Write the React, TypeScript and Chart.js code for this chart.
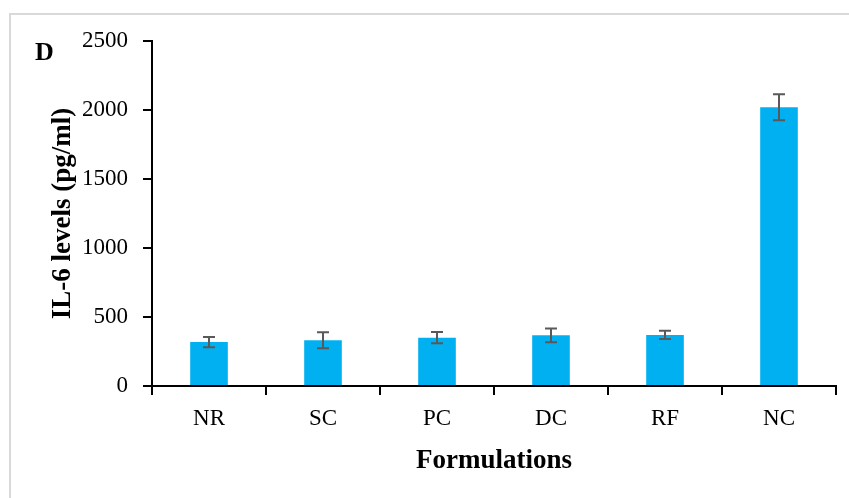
import React, { useEffect, useRef } from "react";
import { Chart, registerables } from "chart.js";

Chart.register(...registerables);

const categories = ["NR", "SC", "PC", "DC", "RF", "NC"];
const values = [318, 331, 350, 367, 370, 2020];
const errors = [37, 58, 41, 50, 30, 95];
const yTicks = [0, 500, 1000, 1500, 2000, 2500];
const panelLabel = "D";
const yTitle = "IL-6 levels (pg/ml)";
const xTitle = "Formulations";

const FONT = "'Liberation Serif', 'Times New Roman', serif";

export default function App() {
  const ref = useRef<HTMLCanvasElement | null>(null);

  useEffect(() => {
    const canvas = ref.current;
    if (!canvas) return;

    const framePlugin = {
      id: "frame",
      beforeDraw(chart: any) {
        const ctx = chart.ctx;
        ctx.save();
        ctx.strokeStyle = "#d9d9d9";
        ctx.lineWidth = 2;
        ctx.strokeRect(10, 14, 900, 600);
        ctx.restore();
      },
    };

    const errorPlugin = {
      id: "errorbars",
      afterDatasetsDraw(chart: any) {
        const ctx = chart.ctx;
        const meta = chart.getDatasetMeta(0);
        const ys = chart.scales.y;
        ctx.save();
        ctx.strokeStyle = "#595959";
        ctx.lineWidth = 2;
        meta.data.forEach((bar: any, i: number) => {
          const x = Math.round(bar.x);
          const top = ys.getPixelForValue(values[i] + errors[i]);
          const bot = ys.getPixelForValue(values[i] - errors[i]);
          ctx.beginPath();
          ctx.moveTo(x, top);
          ctx.lineTo(x, bot);
          ctx.moveTo(x - 6, top);
          ctx.lineTo(x + 6, top);
          ctx.moveTo(x - 6, bot);
          ctx.lineTo(x + 6, bot);
          ctx.stroke();
        });
        ctx.restore();
      },
    };

    const textPlugin = {
      id: "texts",
      afterDraw(chart: any) {
        const ctx = chart.ctx;
        const area = chart.chartArea;
        ctx.save();
        ctx.fillStyle = "#000";
        ctx.font = `bold 26px ${FONT}`;
        ctx.textAlign = "left";
        ctx.textBaseline = "alphabetic";
        ctx.fillText(panelLabel, 35, 60);

        ctx.font = `bold 27px ${FONT}`;
        ctx.textAlign = "center";
        ctx.fillText(xTitle, (area.left + area.right) / 2, 468);

        ctx.translate(70, (area.top + area.bottom) / 2);
        ctx.rotate(-Math.PI / 2);
        ctx.fillText(yTitle, 0, 0);
        ctx.restore();
      },
    };

    const chart = new Chart(canvas, {
      type: "bar",
      data: {
        labels: categories,
        datasets: [
          {
            data: values,
            backgroundColor: "#00B0F0",
            borderWidth: 0,
            categoryPercentage: 1,
            barPercentage: 0.33,
          },
        ],
      },
      options: {
        responsive: false,
        animation: false,
        devicePixelRatio: 1,
        layout: { padding: { top: 41, right: 13, bottom: 0, left: 0 } },
        plugins: {
          legend: { display: false },
          tooltip: { enabled: false },
        },
        scales: {
          x: {
            grid: {
              display: true,
              drawOnChartArea: false,
              drawTicks: true,
              tickLength: 9,
              color: "#000",
              lineWidth: 2,
              offset: true,
            },
            border: { display: true, color: "#000", width: 2 },
            ticks: {
              color: "#000",
              font: { family: FONT, size: 23 },
              padding: 10,
              maxRotation: 0,
            },
            afterFit(scale: any) {
              scale.height = 112;
            },
          },
          y: {
            min: 0,
            max: 2500,
            afterBuildTicks(scale: any) {
              scale.ticks = yTicks.map((v) => ({ value: v }));
            },
            grid: {
              display: true,
              drawOnChartArea: false,
              drawTicks: true,
              tickLength: 9,
              color: "#000",
              lineWidth: 2,
            },
            border: { display: true, color: "#000", width: 2 },
            ticks: {
              color: "#000",
              font: { family: FONT, size: 23 },
              padding: 15,
              callback: (v: any) => String(v),
            },
            afterFit(scale: any) {
              scale.width = 152;
            },
          },
        },
      },
      plugins: [framePlugin, errorPlugin, textPlugin],
    });

    return () => chart.destroy();
  }, []);

  return (
    <div style={{ position: "absolute", left: 0, top: 0, width: 849, height: 498, background: "#fff" }}>
      <canvas ref={ref} width={849} height={498} />
    </div>
  );
}
